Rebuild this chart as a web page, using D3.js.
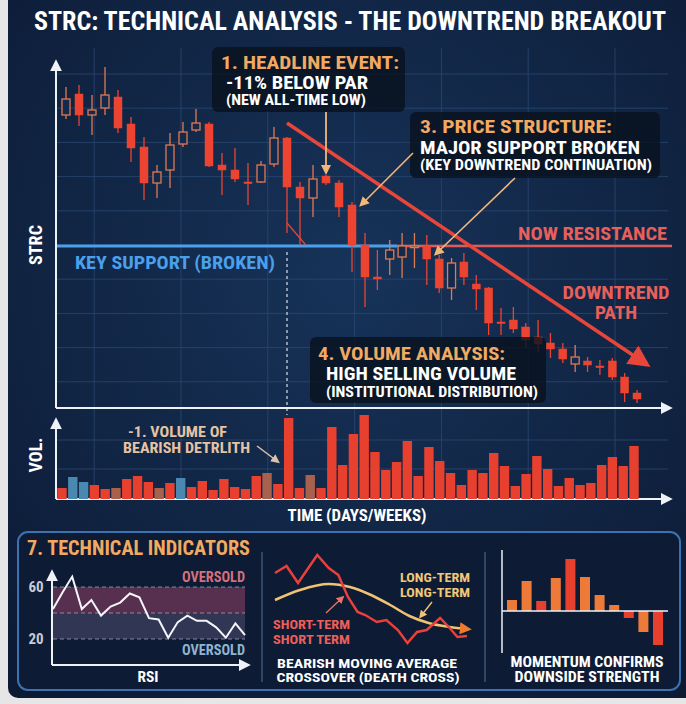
<!DOCTYPE html>
<html lang="en">
<head>
<meta charset="UTF-8">
<title>STRC technical analysis</title>
<script src="https://cdn.jsdelivr.net/npm/d3@7/dist/d3.min.js"></script>
<style>
  html,body{margin:0;padding:0;background:#e6e6e6;}
  svg{display:block;}
  text{font-family:"Roboto Condensed","Liberation Sans Narrow","DejaVu Sans Condensed","Roboto",sans-serif;font-weight:700;}
</style>
</head>
<body>
<div id="root"></div>
<script>
// ---------------- data ----------------
const candleOpen  = [95.55,96.6,95.55,95.9,96.45,95.1,93.95,92.15,92.8,94.1, 94.8,95.1,93.05,92.8,92.2,92.2,93.1,94.4,91.95,91.4, 92.5,92.15,91.05,89.05,87.45,88.35,88.45,88.95,89.0,88.35, 86.9,88.2,87.1,86.9,85.2,85.3,84.95,84.45,84.15,83.85, 83.1,83.25,83.0,83.25,82.45,81.65]
const candleHigh  = [96.95,97.05,96.55,97.95,96.8,95.45,94.45,93.05,94.65,95.2, 95.85,95.2,93.65,93.9,93.15,93.25,94.95,94.45,92.2,93.05, 92.55,92.3,91.2,89.65,88.8,89.3,89.65,89.65,89.55,88.55, 88.4,88.65,87.55,86.95,85.9,85.95,85.15,85.3,84.65,84.15, 84.05,83.45,83.3,83.4,82.65,81.8]
const candleLow   = [95.35,95.0,94.55,95.55,94.65,93.2,91.3,91.4,91.9,93.95, 94.7,92.95,91.55,92.2,91.05,92.15,92.95,89.65,89.05,90.45, 92.05,90.45,87.7,85.95,86.8,87.55,87.4,87.9,87.05,86.65, 86.3,87.05,85.8,84.55,84.55,84.65,83.9,83.7,83.4,83.15, 82.7,82.7,82.55,82.3,81.2,81.15]
const candleClose = [96.35,95.55,95.8,96.55,94.9,93.9,92.15,92.7,94.05,94.7, 95.15,93.0,92.8,92.35,92.15,93.05,94.4,91.95,91.4,92.35, 92.15,90.95,89.05,87.45,87.35,88.8,89.0,89.0,88.35,86.9, 88.15,87.45,86.85,85.15,85.15,84.85,84.3,84.1,83.85,83.35, 83.45,83.05,82.95,82.45,81.65,81.35]

const supportPrice = 89.0
const supportBreak = 25.6          // candle index where the support turns into resistance
const headlineIdx = 20
const trendFrom = [17, 95.15], trendTo = [45.5, 83.2]

const volume = [11,22,17,14,10,11,20,23,17,11,16,21,12,18,9,20,12,10,23,26,15,81,11,24,11,72,34,
                65,84,47,29,37,58,23,52,38,26,14,29,26,46,33,13,25,43,30,13,21,14,16,34,42,33,53]
const volumeKind = ["r","b","b","r","r","m","r","r","r","m","r","b","r","r","r","r","r","r","r","m","r","r","r","m","r","r","r",
                    "r","r","r","r","r","r","r","r","r","r","r","r","r","r","r","r","r","r","r","r","r","r","r","r","r","r","r"]

const rsi = [43,56,68,43,50,38,45,48,55,52,36,35,21,33,38,34,34,29,21,32,23]
const rsiLevels = [60, 40, 20]
const rsiTicks = [60, 20]

const maShortT = [0,6,12,22,28,33,38,43,47,53,58,64,69,74,79,86,91,95,100]
const maShort  = [77,84,67,95,82,75,53,38,35,28,30,20,7,18,20,32,22,13,14]
const maLongT  = [0,13,28,39,50,60,70,80,91,100]
const maLong   = [50,60,66,63,55,45,34,27,23,21]

const momentum = [11,30,10,33,52,34,16,6,-7,-21,-34]
const momentumKind = ["o","o","r","o","r","o","o","o","r","o","r"]

// ---------------- setup ----------------
const width = 686, height = 704
const svg = d3.select("#root").append("svg").attr("width", width).attr("height", height)
const defs = svg.append("defs")

const bg = defs.append("radialGradient").attr("id", "bg").attr("cx", "50%").attr("cy", "40%").attr("r", "75%")
bg.append("stop").attr("offset", "0%").attr("stop-color", "#173359")
bg.append("stop").attr("offset", "100%").attr("stop-color", "#0c1a34")

// arrow heads, size in px
function marker(id, color, size) {
  defs.append("marker").attr("id", id).attr("viewBox", "0 0 10 10")
    .attr("refX", 6).attr("refY", 5).attr("markerWidth", size).attr("markerHeight", size)
    .attr("markerUnits", "userSpaceOnUse").attr("orient", "auto")
    .append("path").attr("d", "M0,0L10,5L0,10Z").attr("fill", color)
}
marker("mWhite", "#eef2f7", 12)
marker("mRed", "#e8463a", 22)
marker("mTan", "#f3b77a", 10)
marker("mPeach", "#d9c1ae", 9)
marker("mOrange", "#f07a2e", 12)
marker("mYellow", "#f0c374", 8)
marker("mSalmon", "#e8716a", 8)

function txt(g, s, x, y, size, color, opt) {
  opt = opt || {}
  const t = g.append("text").attr("x", x).attr("y", y)
    .attr("font-size", size).attr("fill", color)
    .attr("dominant-baseline", "central")
    .attr("text-anchor", opt.anchor || "start").text(s)
  if (opt.w) t.attr("textLength", opt.w).attr("lengthAdjust", "spacingAndGlyphs")
  if (opt.weight) t.attr("font-weight", opt.weight)
  return t
}

function arrow(g, x1, y1, x2, y2, color, w, m) {
  return g.append("line").attr("x1", x1).attr("y1", y1).attr("x2", x2).attr("y2", y2)
    .attr("stroke", color).attr("stroke-width", w).attr("marker-end", "url(#" + m + ")")
}

// panel background
svg.append("rect").attr("x", 8).attr("y", -10).attr("width", 690).attr("height", 708).attr("rx", 10).attr("fill", "url(#bg)")

txt(svg, "STRC: TECHNICAL ANALYSIS - THE DOWNTREND BREAKOUT", 350, 21, 25, "#ffffff", {anchor: "middle", w: 632})

// ---------------- scales ----------------
const left = 56, right = 672, priceBottom = 408, volBottom = 499
const xC = d3.scaleLinear().domain([0, 23, 45]).range([66, 365, 637])
const yP = d3.scaleLinear().domain([80, 99]).range([426, 46])
const xV = d3.scaleLinear().domain([0, volume.length - 1]).range([62, 634])
const yV = d3.scaleLinear().domain([0, 90]).range([volBottom, 409])

// grid
const grid = svg.append("g").attr("stroke", "#2c4a74").attr("stroke-width", 1).attr("opacity", 0.75)
for (let i = 0; i < 7; i++) {
  const x = 94.2 + i * 86.8
  grid.append("line").attr("x1", x).attr("x2", x).attr("y1", 48).attr("y2", volBottom)
}
for (let i = 0; i < 10; i++) {
  const y = 74 + i * 34.2
  grid.append("line").attr("x1", left).attr("x2", 668).attr("y1", y).attr("y2", y)
}
;[440, 469].forEach(y => grid.append("line").attr("x1", left).attr("x2", 668).attr("y1", y).attr("y2", y))

// support / resistance
const ySup = yP(supportPrice)
svg.append("line").attr("x1", left).attr("x2", xC(supportBreak)).attr("y1", ySup).attr("y2", ySup)
  .attr("stroke", "#4aa0ea").attr("stroke-width", 3)
svg.append("line").attr("x1", xC(supportBreak)).attr("x2", right).attr("y1", ySup).attr("y2", ySup)
  .attr("stroke", "#e05a56").attr("stroke-width", 2.5)

// dashed marker at the breakdown candle
svg.append("line").attr("x1", xC(17)).attr("x2", xC(17)).attr("y1", ySup + 6).attr("y2", 415)
  .attr("stroke", "#c9d3e0").attr("stroke-width", 1.3).attr("stroke-dasharray", "3,3")

// candles
const candles = svg.append("g")
candleOpen.forEach((o, i) => {
  const c = candleClose[i], up = c >= o
  const col = up ? "#e07a52" : "#ec4430"
  const x = xC(i)
  candles.append("line").attr("x1", x).attr("x2", x).attr("y1", yP(candleHigh[i])).attr("y2", yP(candleLow[i]))
    .attr("stroke", col).attr("stroke-width", 1.3)
  const y0 = yP(Math.max(o, c)), h = Math.max(1.6, Math.abs(yP(o) - yP(c)))
  candles.append("rect").attr("x", x - 4).attr("width", 8).attr("y", y0).attr("height", h)
    .attr("fill", up ? "#142a4c" : col).attr("stroke", col).attr("stroke-width", up ? 1.3 : 0.5)
})

// thin red tick from the long-wick candle
svg.append("line").attr("x1", xC(17)).attr("y1", yP(90.15)).attr("x2", xC(18.45)).attr("y2", yP(89.05))
  .attr("stroke", "#e8463a").attr("stroke-width", 1.2)

// downtrend arrow
arrow(svg, xC(trendFrom[0]), yP(trendFrom[1]), xC(trendTo[0]), yP(trendTo[1]), "#e8463a", 3.5, "mRed")

// axes
const axes = svg.append("g")
arrow(axes, left, priceBottom, left, 64, "#eef2f7", 2, "mWhite")
arrow(axes, left, priceBottom, right - 4, priceBottom, "#eef2f7", 2, "mWhite")
arrow(axes, left, volBottom, left, 422, "#eef2f7", 2, "mWhite")
arrow(axes, left, volBottom, right - 4, volBottom, "#eef2f7", 2, "mWhite")

// volume bars
const volColor = {r: "#e8402e", b: "#4a88b2", m: "#a8614c"}
svg.append("g").selectAll("rect").data(volume).join("rect")
  .attr("x", (d, i) => xV(i) - 4.7).attr("width", 9.4)
  .attr("y", d => yV(d)).attr("height", d => yV(0) - yV(d))
  .attr("fill", (d, i) => volColor[volumeKind[i]])

// labels on the price chart
txt(svg, "KEY SUPPORT (BROKEN)", 75, 262, 19, "#4aa0ea", {w: 200})
txt(svg, "NOW RESISTANCE", 667, 233, 19, "#e8605a", {anchor: "end", w: 149})
txt(svg, "DOWNTREND", 616, 292, 18, "#e8605a", {anchor: "middle", w: 107})
txt(svg, "PATH", 616, 312, 18, "#e8605a", {anchor: "middle", w: 42})
txt(svg, "STRC", 35, 245, 19, "#ffffff", {anchor: "middle", w: 40}).attr("transform", "rotate(-90,35,245)")
txt(svg, "VOL.", 35, 455, 19, "#ffffff", {anchor: "middle", w: 35}).attr("transform", "rotate(-90,35,455)")
txt(svg, "TIME (DAYS/WEEKS)", 357, 515, 16, "#ffffff", {anchor: "middle", w: 139})
txt(svg, "-1. VOLUME OF", 128, 432, 14.5, "#e6c3a2", {w: 99})
txt(svg, "BEARISH DETRLITH", 123, 448, 14.5, "#e6c3a2", {w: 127})
arrow(svg, 257, 446, 277, 461, "#d9c1ae", 1.5, "mPeach")

// annotation boxes
function box(x, y, w, h, lines) {
  const g = svg.append("g")
  g.append("rect").attr("x", x).attr("y", y).attr("width", w).attr("height", h).attr("rx", 6)
    .attr("fill", "#09121f").attr("opacity", 0.82)
  lines.forEach(l => txt(g, l.t, l.x, l.y, l.s, l.c, {w: l.w}))
  return g
}
box(212, 47, 193, 65, [
  {t: "1. HEADLINE EVENT:", x: 221, y: 62, s: 19, c: "#f2aa62", w: 178},
  {t: "-11% BELOW PAR", x: 226, y: 82, s: 18, c: "#ffffff", w: 142},
  {t: "(NEW ALL-TIME LOW)", x: 226, y: 100, s: 14, c: "#ffffff", w: 140}
])
box(410, 112, 250, 66, [
  {t: "3. PRICE STRUCTURE:", x: 420, y: 127, s: 18.5, c: "#f2aa62", w: 192},
  {t: "MAJOR SUPPORT BROKEN", x: 420, y: 147, s: 18, c: "#ffffff", w: 220},
  {t: "(KEY DOWNTREND CONTINUATION)", x: 420, y: 165, s: 14, c: "#ffffff", w: 232}
])
box(310, 337, 236, 66, [
  {t: "4. VOLUME ANALYSIS:", x: 318, y: 353, s: 19, c: "#f2aa62", w: 187},
  {t: "HIGH SELLING VOLUME", x: 326, y: 373, s: 18, c: "#ffffff", w: 190},
  {t: "(INSTITUTIONAL DISTRIBUTION)", x: 326, y: 392, s: 15, c: "#ffffff", w: 212}
])

// annotation arrows
arrow(svg, xC(headlineIdx), 112, xC(headlineIdx), yP(candleHigh[headlineIdx]) - 4, "#f3b77a", 1.8, "mTan")
arrow(svg, 413, 153, xC(22) + 10, yP(candleOpen[22]) - 1, "#f3b77a", 1.6, "mTan")
arrow(svg, 515, 178, xC(28) + 10, yP(candleOpen[28]) + 7, "#f3b77a", 1.6, "mTan")

// ---------------- indicator panel ----------------
const ind = svg.append("g")
ind.append("rect").attr("x", 18).attr("y", 532).attr("width", 662).attr("height", 158).attr("rx", 10)
  .attr("fill", "#0d1b34").attr("stroke", "#3d72b0").attr("stroke-width", 2)
txt(ind, "7. TECHNICAL INDICATORS", 27, 548, 21, "#f2aa62", {w: 223})
;[262, 485].forEach(x => ind.append("line").attr("x1", x).attr("x2", x).attr("y1", 552).attr("y2", 682)
  .attr("stroke", "#3a5478").attr("stroke-width", 1.5))

// RSI
const xR = d3.scaleLinear().domain([0, rsi.length - 1]).range([53, 245])
const yR = d3.scaleLinear().domain([20, 60]).range([639, 587])
ind.append("rect").attr("x", 53).attr("width", 192).attr("y", yR(60)).attr("height", yR(40) - yR(60))
  .attr("fill", "#6a3456").attr("opacity", 0.8)
ind.append("rect").attr("x", 53).attr("width", 192).attr("y", yR(40)).attr("height", yR(20) - yR(40))
  .attr("fill", "#3a3d5c").attr("opacity", 0.8)
rsiLevels.forEach(v => ind.append("line").attr("x1", 53).attr("x2", 245).attr("y1", yR(v)).attr("y2", yR(v))
  .attr("stroke", "#aab0c2").attr("stroke-width", 1.2).attr("stroke-dasharray", "4,3").attr("opacity", 0.7))
rsiTicks.forEach(v => txt(ind, String(v), 36, yR(v), 15, "#c6ccd6", {anchor: "middle", weight: 400}))
ind.append("path").datum(rsi)
  .attr("d", d3.line().x((d, i) => xR(i)).y(d => yR(d)))
  .attr("fill", "none").attr("stroke", "#f4f6fa").attr("stroke-width", 2)
arrow(ind, 52, 665, 52, 574, "#eef2f7", 2, "mWhite")
arrow(ind, 52, 665, 246, 665, "#eef2f7", 2, "mWhite")
txt(ind, "OVERSOLD", 245, 577, 14, "#d4707e", {anchor: "end", w: 63})
txt(ind, "OVERSOLD", 245, 650, 14, "#8fb4cf", {anchor: "end", w: 63})
txt(ind, "RSI", 148, 677, 15, "#ffffff", {anchor: "middle", w: 21})

// moving averages
const xM = d3.scaleLinear().domain([0, 100]).range([275, 467])
const yM = d3.scaleLinear().domain([0, 100]).range([650, 550])
ind.append("path").datum(maLongT.map((t, i) => [t, maLong[i]]))
  .attr("d", d3.line().x(d => xM(d[0])).y(d => yM(d[1])).curve(d3.curveMonotoneX))
  .attr("fill", "none").attr("stroke", "#f0c374").attr("stroke-width", 2.5).attr("marker-end", "url(#mOrange)")
ind.append("path").datum(maShortT.map((t, i) => [t, maShort[i]]))
  .attr("d", d3.line().x(d => xM(d[0])).y(d => yM(d[1])))
  .attr("fill", "none").attr("stroke", "#e8403a").attr("stroke-width", 2.5)
txt(ind, "LONG-TERM", 435, 577, 13.5, "#f0c878", {anchor: "middle", w: 70})
txt(ind, "LONG-TERM", 435, 592, 13.5, "#f0c878", {anchor: "middle", w: 70})
arrow(ind, 432, 602, 421, 616, "#f0c374", 1.4, "mYellow")
txt(ind, "SHORT-TERM", 273, 625, 12, "#ee5f5a", {w: 77})
txt(ind, "SHORT TERM", 273, 639.5, 12, "#ee5f5a", {w: 77})
arrow(ind, 326, 613, 342, 598, "#e8716a", 1.4, "mSalmon")
txt(ind, "BEARISH MOVING AVERAGE", 367, 663, 13, "#ffffff", {anchor: "middle", w: 180})
txt(ind, "CROSSOVER (DEATH CROSS)", 368, 677, 13, "#ffffff", {anchor: "middle", w: 183})

// momentum
const xMo = d3.scaleLinear().domain([0, momentum.length - 1]).range([512, 658])
const yMo = d3.scaleLinear().domain([-40, 60]).range([651, 551])
const moColor = {o: "#ee7a3a", r: "#e8402e"}
ind.append("g").selectAll("rect").data(momentum).join("rect")
  .attr("x", (d, i) => xMo(i) - 5).attr("width", 10)
  .attr("y", d => yMo(Math.max(0, d))).attr("height", d => Math.abs(yMo(d) - yMo(0)))
  .attr("fill", (d, i) => moColor[momentumKind[i]])
ind.append("line").attr("x1", 502).attr("x2", 502).attr("y1", 550).attr("y2", 653).attr("stroke", "#eef2f7").attr("stroke-width", 1.5)
ind.append("line").attr("x1", 502).attr("x2", 668).attr("y1", yMo(0)).attr("y2", yMo(0)).attr("stroke", "#eef2f7").attr("stroke-width", 1.5)
txt(ind, "MOMENTUM CONFIRMS", 587, 662, 14, "#ffffff", {anchor: "middle", w: 153})
txt(ind, "DOWNSIDE STRENGTH", 587, 677, 14, "#ffffff", {anchor: "middle", w: 145})
</script>
</body>
</html>
